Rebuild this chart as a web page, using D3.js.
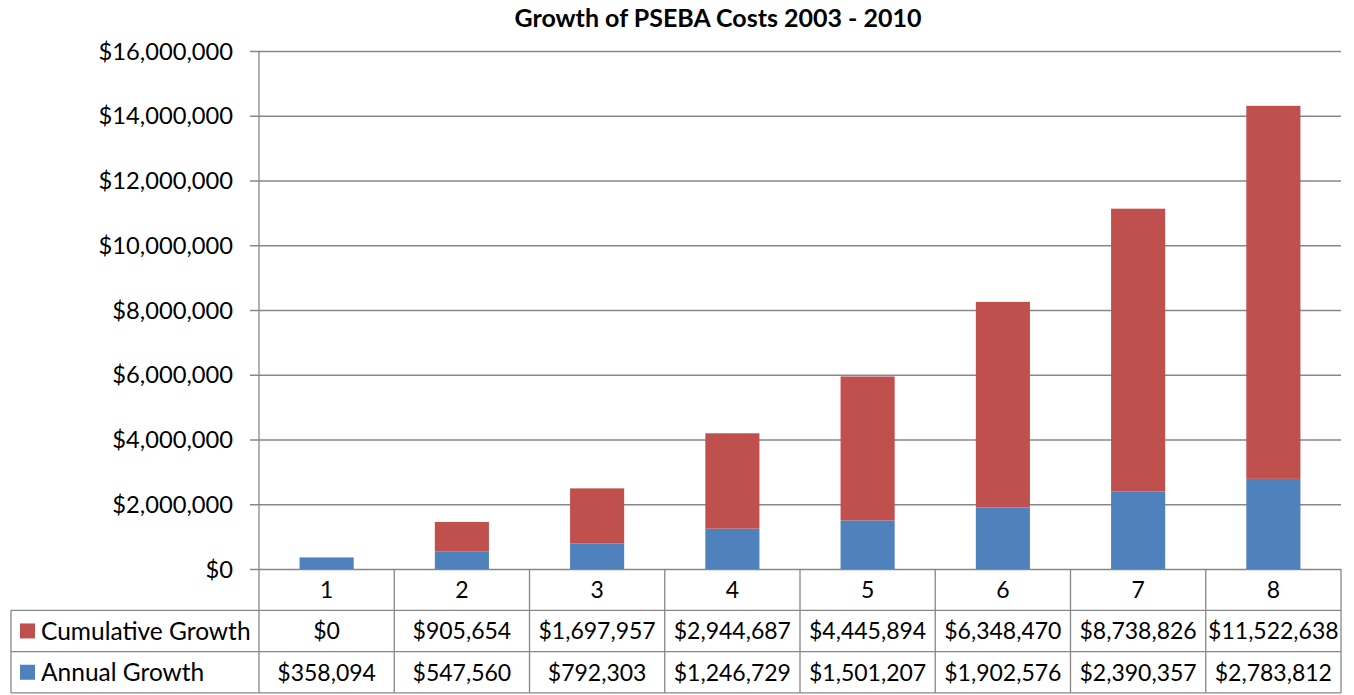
<!DOCTYPE html>
<html>
<head>
<meta charset="utf-8">
<script src="https://cdn.jsdelivr.net/npm/d3@7"></script>
<style>
  html, body { margin: 0; padding: 0; background: #fff; }
  svg { display: block; font-family: "Lato", "Open Sans", sans-serif; }
</style>
</head>
<body>
<svg id="chart" width="1354" height="695"></svg>
<script>
// Category labels along the x axis (years 2003-2010 numbered 1..8)
const categories = ["1", "2", "3", "4", "5", "6", "7", "8"];
// Series values, stacked bottom to top
const annualGrowth = [358094, 547560, 792303, 1246729, 1501207, 1902576, 2390357, 2783812];
const cumulativeGrowth = [0, 905654, 1697957, 2944687, 4445894, 6348470, 8738826, 11522638];
const seriesNames = ["Annual Growth", "Cumulative Growth"];
const seriesColors = ["#4F81BD", "#C0504D"];
const yTicks = [0, 2000000, 4000000, 6000000, 8000000, 10000000, 12000000, 14000000, 16000000];
const title = "Growth of PSEBA Costs 2003 - 2010";

const svg = d3.select("#chart");
const plot = { left: 259, right: 1341, top: 51, bottom: 569 };
const tableLeft = 11;
const rowH = 41.3;
const gridColor = "#878787";
const fontSize = 23;

const x = d3.scaleBand().domain(categories).range([plot.left, plot.right]).paddingInner(0).paddingOuter(0);
const y = d3.scaleLinear().domain([0, 16000000]).range([plot.bottom, plot.top]);
const fmt = v => "$" + d3.format(",")(v);

// Title
svg.append("text")
  .attr("x", 718)
  .attr("y", 27)
  .attr("text-anchor", "middle")
  .attr("font-weight", "bold")
  .attr("font-size", 25)
  .attr("fill", "#000")
  .text(title);

// Horizontal gridlines + y axis
const yAxis = d3.axisLeft(y).tickValues(yTicks).tickFormat(fmt)
  .tickSizeInner(-(plot.right - plot.left)).tickSizeOuter(0).tickPadding(26);
const gy = svg.append("g").attr("transform", `translate(${plot.left},0)`).call(yAxis);
gy.select(".domain").remove();
gy.selectAll(".tick line").attr("stroke", gridColor).attr("stroke-width", 1.3)
  .attr("x1", -9);
gy.selectAll(".tick text").attr("font-size", 23.7).attr("fill", "#000")
  .attr("font-family", "Lato, 'Open Sans', sans-serif").attr("dy", "0.34em");

// Stacked bars
const rows = categories.map((c, i) => ({ cat: c, "Annual Growth": annualGrowth[i], "Cumulative Growth": cumulativeGrowth[i] }));
const stack = d3.stack().keys(seriesNames)(rows);
const barW = x.bandwidth() * 0.4;
svg.append("g").selectAll("g").data(stack).join("g")
  .attr("fill", (d, i) => seriesColors[i])
  .selectAll("rect").data(d => d).join("rect")
  .attr("x", d => x(d.data.cat) + (x.bandwidth() - barW) / 2)
  .attr("width", barW)
  .attr("y", d => y(d[1]))
  .attr("height", d => y(d[0]) - y(d[1]));

// Vertical axis line, continuing down through the data table
svg.append("line").attr("x1", plot.left).attr("x2", plot.left)
  .attr("y1", plot.top).attr("y2", plot.bottom + rowH * 3)
  .attr("stroke", gridColor).attr("stroke-width", 1.3);

// Data table
const table = svg.append("g");
const rowTop = i => plot.bottom + rowH * i;
// column separators
categories.forEach(c => {
  table.append("line")
    .attr("x1", x(c) + x.bandwidth()).attr("x2", x(c) + x.bandwidth())
    .attr("y1", plot.bottom).attr("y2", rowTop(3))
    .attr("stroke", gridColor).attr("stroke-width", 1.3);
});
// row separators
[1, 2, 3].forEach(i => {
  table.append("line").attr("x1", tableLeft).attr("x2", plot.right)
    .attr("y1", rowTop(i)).attr("y2", rowTop(i))
    .attr("stroke", gridColor).attr("stroke-width", 1.3);
});
table.append("line").attr("x1", tableLeft).attr("x2", tableLeft)
  .attr("y1", rowTop(1)).attr("y2", rowTop(3))
  .attr("stroke", gridColor).attr("stroke-width", 1.3);

// category header row
table.selectAll("text.cat").data(categories).join("text").attr("class", "cat")
  .attr("x", d => x(d) + x.bandwidth() / 2)
  .attr("y", rowTop(0) + rowH / 2)
  .attr("dy", "0.36em").attr("text-anchor", "middle")
  .attr("font-size", fontSize).text(d => d);

// series rows: cumulative first, then annual
const tableRows = [
  { name: "Cumulative Growth", color: seriesColors[1], values: cumulativeGrowth },
  { name: "Annual Growth", color: seriesColors[0], values: annualGrowth }
];
tableRows.forEach((r, i) => {
  const cy = rowTop(i + 1) + rowH / 2;
  table.append("rect").attr("x", 20).attr("y", cy - 7.5).attr("width", 15).attr("height", 15).attr("fill", r.color);
  table.append("text").attr("x", 41).attr("y", cy).attr("dy", "0.36em")
    .attr("font-size", 24.5).text(r.name);
  table.selectAll(null).data(r.values).join("text")
    .attr("x", (d, j) => x(categories[j]) + x.bandwidth() / 2)
    .attr("y", cy).attr("dy", "0.36em").attr("text-anchor", "middle")
    .attr("font-size", fontSize).text(d => fmt(d));
});
</script>
</body>
</html>
